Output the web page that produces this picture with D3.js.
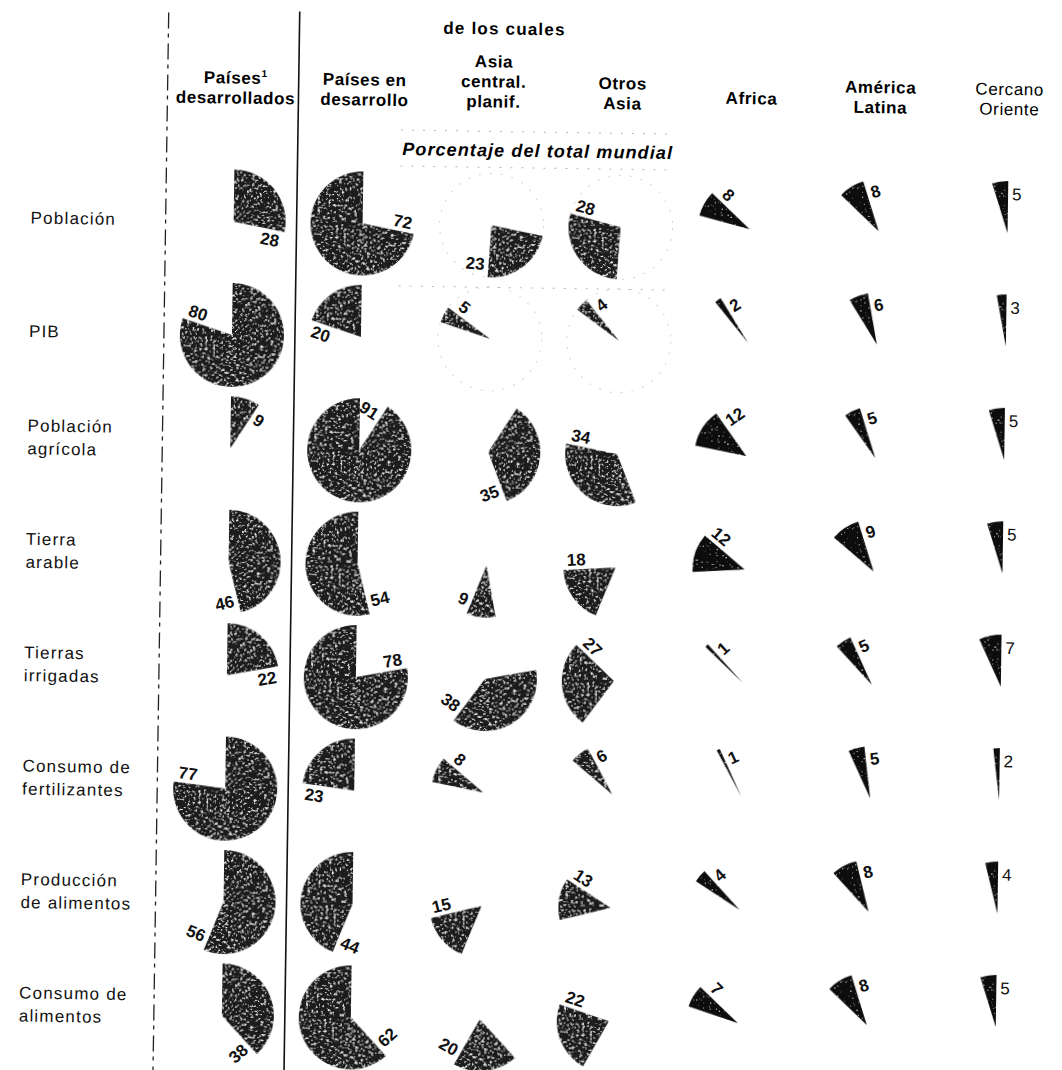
<!DOCTYPE html>
<html>
<head>
<meta charset="utf-8">
<script src="https://cdn.jsdelivr.net/npm/d3@7"></script>
<style>
  html, body { margin: 0; padding: 0; background: #fff; }
  svg { display: block; }
</style>
</head>
<body>
<div id="chart"></div>
<script>
// rows (indicators) and their printed labels
const indicators = ["Población", "PIB", "Población agrícola", "Tierra arable",
    "Tierras irrigadas", "Consumo de fertilizantes", "Producción de alimentos", "Consumo de alimentos"]
const indicatorLines = [["Población"], ["PIB"], ["Población", "agrícola"], ["Tierra", "arable"],
    ["Tierras", "irrigadas"], ["Consumo de", "fertilizantes"], ["Producción", "de alimentos"], ["Consumo de", "alimentos"]]

// columns and header lines
const columns = ["desarrollados", "en desarrollo", "Asia central. planif.", "Otros Asia", "Africa", "América Latina", "Cercano Oriente"]
const headerLines = [["Países", "desarrollados"], ["Países en", "desarrollo"], ["Asia", "central.", "planif."],
    ["Otros", "Asia"], ["Africa"], ["América", "Latina"], ["Cercano", "Oriente"]]

// percentage of world total
const developed    = [28, 80,  9, 46, 22, 77, 56, 38]
const developing   = [72, 20, 91, 54, 78, 23, 44, 62]
const asiaCP       = [23,  5, 35,  9, 38,  8, 15, 20]
const otherAsia    = [28,  4, 34, 18, 27,  6, 13, 22]
const africa       = [ 8,  2, 12, 12,  1,  1,  4,  7]
const latinAmerica = [ 8,  6,  5,  9,  5,  5,  8,  8]
const nearEast     = [ 5,  3,  5,  5,  7,  2,  4,  5]

const width = 1062, height = 1070
const radius = 52

const svg = d3.select("#chart").append("svg")
    .attr("width", width)
    .attr("height", height)
    .attr("viewBox", `0 0 ${width} ${height}`)

// grain texture like the printed screen
const defs = svg.append("defs")
function grain(id, gainA, biasA, freq, tone) {
    const f = defs.append("filter").attr("id", id)
        .attr("x", "-5%").attr("y", "-5%").attr("width", "110%").attr("height", "110%")
    f.append("feTurbulence").attr("type", "fractalNoise").attr("baseFrequency", freq)
        .attr("numOctaves", 3).attr("seed", 11).attr("result", "n")
    f.append("feColorMatrix").attr("in", "n").attr("type", "matrix")
        .attr("values", `0 0 0 0 ${tone}  0 0 0 0 ${tone}  0 0 0 0 ${tone}  ${gainA} 0 0 0 ${biasA}`).attr("result", "w")
    f.append("feComposite").attr("in", "w").attr("in2", "SourceAlpha").attr("operator", "in").attr("result", "wi")
    const m = f.append("feMerge")
    m.append("feMergeNode").attr("in", "SourceGraphic")
    m.append("feMergeNode").attr("in", "wi")
}
grain("grain", 5, -2.95, 0.38, 0.85)
grain("grainLight", 5, -3.5, 0.6, 0.7)

// the scanned page is slightly turned
const g = svg.append("g").attr("transform", "rotate(0.85, 531, 535)")

const x = d3.scalePoint().domain(columns).range([229, 1003])
const y = d3.scalePoint().domain(indicators).range([226, 1020])
const angle = d3.scaleLinear().domain([0, 100]).range([0, 2 * Math.PI])
const arc = d3.arc().innerRadius(0).outerRadius(radius)

// separators
g.append("line").attr("x1", 161).attr("x2", 161).attr("y1", 18).attr("y2", height + 10)
    .attr("stroke", "#222").attr("stroke-width", 1.3).attr("stroke-dasharray", "16,5,4,6")
g.append("line").attr("x1", 292).attr("x2", 292).attr("y1", 15).attr("y2", height + 10)
    .attr("stroke", "#111").attr("stroke-width", 1.6)

// faint scan traces around the Asian columns
const faint = g.append("g").attr("stroke", "#b5b5b5").attr("fill", "none")
    .attr("stroke-width", 1).attr("stroke-dasharray", "2,9")
faint.selectAll("line.faint")
    .data([132, 168, 288])
    .join("line").attr("class", "faint")
    .attr("x1", 395).attr("x2", 670).attr("y1", d => d).attr("y2", d => d)
faint.selectAll("circle")
    .data([[0, 2], [0, 3], [1, 2], [1, 3]])
    .join("circle")
    .attr("cx", d => x(columns[d[1]]))
    .attr("cy", d => y(indicators[d[0]]))
    .attr("r", radius)
    .attr("opacity", 0.6)

// headers
g.append("text")
    .attr("x", 497).attr("y", 35)
    .attr("text-anchor", "middle")
    .attr("font-family", "Liberation Sans, Arial, sans-serif")
    .attr("font-weight", "bold").attr("font-size", 17).attr("letter-spacing", 1.2)
    .text("de los cuales")

g.append("text")
    .attr("x", 532).attr("y", 157)
    .attr("text-anchor", "middle")
    .attr("font-family", "Liberation Sans, Arial, sans-serif")
    .attr("font-weight", "bold").attr("font-style", "italic")
    .attr("font-size", 18).attr("letter-spacing", 1.1)
    .text("Porcentaje del total mundial")

const headerWeight = ["bold", "bold", "bold", "bold", "bold", "bold", "normal"]
headerLines.forEach((lines, ci) => {
    const baseY = lines.length === 3 ? 68 : lines.length === 2 ? 88 : 101
    const t = g.append("text")
        .attr("text-anchor", "middle")
        .attr("font-family", "Liberation Sans, Arial, sans-serif")
        .attr("font-weight", headerWeight[ci])
        .attr("font-size", 17).attr("letter-spacing", 0.6)
    lines.forEach((line, li) => {
        t.append("tspan").attr("x", x(columns[ci])).attr("y", baseY + li * 20).text(line)
        if (ci === 0 && li === 0) {
            t.append("tspan").attr("dy", -7).attr("font-size", 10).text("1")
        }
    })
})

// row labels
indicatorLines.forEach((lines, ri) => {
    const cy = y(indicators[ri])
    const t = g.append("text")
        .attr("font-family", "Liberation Sans, Arial, sans-serif")
        .attr("font-size", 17).attr("letter-spacing", 1.2)
        .attr("fill", "#111")
    lines.forEach((line, li) => {
        const yy = lines.length === 1 ? cy + 5 : cy - 14 + li * 23
        t.append("tspan").attr("x", 26).attr("y", yy).text(line)
    })
})

// wedges: each row is one world pie, developed from 12 o'clock, regions of the developing share follow clockwise
const regionSeries = [asiaCP, otherAsia, africa, latinAmerica, nearEast]
const wedges = []
indicators.forEach((ind, i) => {
    wedges.push({ row: ind, col: columns[0], v: developed[i], a0: 0, a1: developed[i], edge: "end" })
    wedges.push({ row: ind, col: columns[1], v: developing[i], a0: developed[i], a1: 100, edge: "start" })
    const subTotal = d3.sum(regionSeries, s => s[i])
    let acc = 100 - subTotal
    regionSeries.forEach((s, k) => {
        wedges.push({ row: ind, col: columns[k + 2], v: s[i], a0: acc, a1: acc + s[i], edge: "end" })
        acc += s[i]
    })
})

const heavyCols = new Set(columns.slice(0, 4))

g.append("g").selectAll("path")
    .data(wedges)
    .join("path")
    .attr("transform", d => `translate(${x(d.col)},${y(d.row)})`)
    .attr("d", d => arc({ startAngle: angle(d.a0), endAngle: angle(d.a1) }))
    .attr("fill", d => heavyCols.has(d.col) ? "#1c1c1c" : "#080808")
    .attr("filter", d => heavyCols.has(d.col) ? "url(#grain)" : "url(#grainLight)")

// value labels sit just outside one straight edge of each wedge
const fontSize = 17
const norm = deg => {
    let r = ((deg % 180) + 180) % 180
    if (r > 90) r -= 180
    return r
}
const labels = g.append("g").selectAll("text")
    .data(wedges)
    .join("text")
    .attr("font-family", "Liberation Sans, Arial, sans-serif")
    .attr("font-size", fontSize)
    .attr("font-weight", d => d.col === columns[6] ? "normal" : "bold")
    .attr("fill", "#111")
    .attr("text-anchor", "middle")
    .attr("dy", "0.36em")
    .text(d => d.v)

labels.each(function(d) {
    const w = this.getComputedTextLength()
    const h = 0.72 * fontSize
    const aVal = d.edge === "end" ? d.a1 : d.a0
    const side = d.edge === "end" ? 1 : -1
    const a = angle(aVal)
    const aDeg = a * 180 / Math.PI
    const rEdge = norm(aDeg - 90)
    const rTan = norm(aDeg)
    const rot = Math.abs(rEdge) <= 45 ? rEdge : rTan
    const rr = rot * Math.PI / 180
    const dir = [Math.sin(a), -Math.cos(a)]
    const nrm = [Math.cos(a), Math.sin(a)]
    const u = [Math.cos(rr), Math.sin(rr)]
    const v = [-Math.sin(rr), Math.cos(rr)]
    const he = Math.abs(nrm[0] * u[0] + nrm[1] * u[1]) * w / 2 + Math.abs(nrm[0] * v[0] + nrm[1] * v[1]) * h / 2
    const along = radius * 0.75
    const off = side * (4 + he)
    const px = x(d.col) + along * dir[0] + off * nrm[0]
    const py = y(d.row) + along * dir[1] + off * nrm[1]
    d3.select(this).attr("transform", `translate(${px},${py}) rotate(${rot})`)
})
</script>
</body>
</html>
